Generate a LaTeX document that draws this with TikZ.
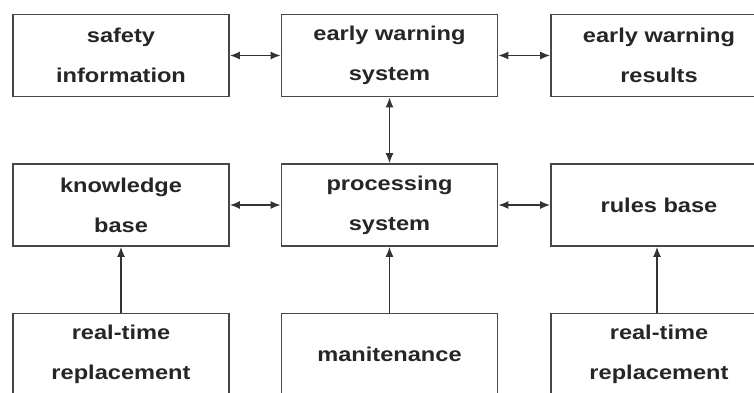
\documentclass[tikz,border=0pt]{standalone}
\usepackage{fontspec}
\setmainfont{Liberation Sans}[FakeStretch=1.18]
\usetikzlibrary{arrows.meta}
\begin{document}
\begin{tikzpicture}[x=1pt,y=-1pt,
  box/.style={draw=black!72,line width=1.8pt,fill=white,rectangle,
    minimum width=216pt,minimum height=82pt,inner sep=0pt,
    align=center,text=black!85,
    font=\fontsize{20pt}{40pt}\selectfont\bfseries},
  conn/.style={draw=black!80,line width=1.4pt},
  tip/.style={-{Latex[length=10pt,width=8pt]}},
  both/.style={{Latex[length=10pt,width=8pt]}-{Latex[length=10pt,width=8pt]}}]
\useasboundingbox (0,0) rectangle (754,392);
\clip (0,0) rectangle (754,392);
\node[box] (si)  at (121,55.5)   {safety\\information};
\node[box] (ews) at (389.5,55.5) {early warning\\system};
\node[box] (ewr) at (659,55.5)   {early warning\\results};
\node[box] (kb)  at (121,205)    {knowledge\\base};
\node[box] (ps)  at (389.5,205)  {processing\\system};
\node[box] (rb)  at (659,205)    {rules base};
\node[box] (rt1) at (121,354.5)  {real-time\\replacement};
\node[box] (mt)  at (389.5,354.5){manitenance};
\node[box] (rt2) at (659,354.5)  {real-time\\replacement};
\draw[conn,both] (si.east) -- (ews.west);
\draw[conn,both] (ews.east) -- (ewr.west);
\draw[conn,both] (ews.south) -- (ps.north);
\draw[conn,both] (kb.east) -- (ps.west);
\draw[conn,both] (ps.east) -- (rb.west);
\draw[conn,tip] (rt1.north) -- (kb.south);
\draw[conn,tip] (mt.north) -- (ps.south);
\draw[conn,tip] (rt2.north -| 657,0) -- (rb.south -| 657,0);
\end{tikzpicture}
\end{document}
